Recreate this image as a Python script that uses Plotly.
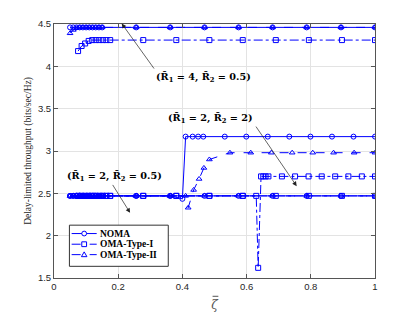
import plotly.graph_objects as go

# ---------------- data ----------------
x_noma_dense = [0.05, 0.06, 0.07, 0.08, 0.09, 0.10, 0.11, 0.12, 0.13, 0.14, 0.15,
                0.256, 0.362, 0.469, 0.575, 0.681, 0.787, 0.894, 1.0]
x_omaI = [0.075, 0.086, 0.097, 0.108, 0.119, 0.130, 0.141, 0.152, 0.163, 0.175,
          0.278, 0.381, 0.484, 0.588, 0.691, 0.794, 0.897, 1.0]

# (R1=4, R2=0.5)
noma_r4 = [4.46] * 19
omaII_r4 = [4.39, 4.43, 4.45, 4.46, 4.46, 4.46, 4.46, 4.46, 4.46, 4.46, 4.46,
            4.46, 4.46, 4.46, 4.46, 4.46, 4.46, 4.46, 4.46]
omaI_r4 = [4.18, 4.24, 4.27, 4.30, 4.31, 4.31, 4.31, 4.31, 4.31, 4.31,
           4.31, 4.31, 4.31, 4.31, 4.31, 4.31, 4.31, 4.31]

# (R1=2, R2=0.5)
noma_r05 = [2.47] * 19
omaII_r05 = [2.47] * 19
omaI_r05 = [2.47] * 18

# (R1=2, R2=2)
x_noma_r2 = [0.05, 0.06, 0.07, 0.08, 0.09, 0.10, 0.11, 0.12, 0.13, 0.14, 0.15,
             0.256, 0.362, 0.40, 0.41, 0.432, 0.449, 0.465, 0.532, 0.599, 0.666,
             0.733, 0.799, 0.866, 0.933, 1.0]
noma_r2 = [2.47] * 13 + [2.435] + [3.17] * 12

x_omaII_r2 = [0.05, 0.06, 0.07, 0.08, 0.09, 0.10, 0.11, 0.12, 0.13, 0.14, 0.15,
              0.256, 0.362, 0.41, 0.418, 0.435, 0.452, 0.467, 0.484, 0.548, 0.613,
              0.677, 0.742, 0.806, 0.871, 0.935, 1.0]
omaII_r2 = [2.47] * 14 + [2.33, 2.54, 2.67, 2.80, 2.90] + [2.98] * 8

x_omaI_r2 = [0.075, 0.086, 0.097, 0.108, 0.119, 0.130, 0.141, 0.152, 0.163, 0.175,
             0.278, 0.381, 0.484, 0.588, 0.63, 0.636, 0.645, 0.652, 0.659, 0.668,
             0.710, 0.751, 0.793, 0.834, 0.876, 0.917, 0.959, 1.0]
omaI_r2 = [2.47] * 15 + [1.62] + [2.70] * 12

x_ticks = [0, 0.2, 0.4, 0.6, 0.8, 1]
x_tick_labels = ["0", "0.2", "0.4", "0.6", "0.8", "1"]
y_ticks = [1.5, 2, 2.5, 3, 3.5, 4, 4.5]
y_tick_labels = ["1.5", "2", "2.5", "3", "3.5", "4", "4.5"]

legend_names = ["NOMA", "OMA-Type-I", "OMA-Type-II"]

# ---------------- styles ----------------
BLUE = "rgb(0,0,255)"
styles = {
    "NOMA": dict(dash="solid", symbol="circle-open"),
    "OMA-Type-I": dict(dash="dashdot", symbol="square-open"),
    "OMA-Type-II": dict(dash="dash", symbol="triangle-up-open"),
}

series = [
    ("NOMA", x_noma_dense, noma_r4),
    ("OMA-Type-I", x_omaI, omaI_r4),
    ("OMA-Type-II", x_noma_dense, omaII_r4),
    ("NOMA", x_noma_dense, noma_r05),
    ("OMA-Type-I", x_omaI, omaI_r05),
    ("OMA-Type-II", x_noma_dense, omaII_r05),
    ("NOMA", x_noma_r2, noma_r2),
    ("OMA-Type-I", x_omaI_r2, omaI_r2),
    ("OMA-Type-II", x_omaII_r2, omaII_r2),
]

fig = go.Figure()
for name, xs, ys in series:
    st = styles[name]
    fig.add_trace(go.Scatter(
        x=xs, y=ys, mode="lines+markers", name=name, showlegend=False,
        line=dict(color=BLUE, width=1, dash=st["dash"]),
        marker=dict(symbol=st["symbol"], size=5, color=BLUE,
                    line=dict(color=BLUE, width=1)),
    ))

SERIF = "DejaVu Serif, Liberation Serif, serif"
ann_font = dict(family=SERIF, size=9.7, color="black")

def label(x, y, txt):
    fig.add_annotation(x=x, y=y, xref="x", yref="y", text=txt,
                       showarrow=False, font=ann_font)

def arrow(x0, y0, x1, y1):
    fig.add_annotation(x=x1, y=y1, ax=x0, ay=y0, xref="x", yref="y",
                       axref="x", ayref="y", text="", showarrow=True,
                       arrowhead=2, arrowsize=1.3, arrowwidth=0.7,
                       arrowcolor="#222222", standoff=0, startstandoff=0)

label(0.465, 3.87, "<b>(R̄<sub>1</sub> = 4, R̄<sub>2</sub> = 0.5)</b>")
arrow(0.315, 3.956, 0.211, 4.505)
label(0.489, 3.389, "<b>(R̄<sub>1</sub> = 2, R̄<sub>2</sub> = 2)</b>")
arrow(0.626, 3.306, 0.756, 2.585)
label(0.187, 2.703, "<b>(R̄<sub>1</sub> = 2, R̄<sub>2</sub> = 0.5)</b>")
arrow(0.18, 2.617, 0.237, 2.27)

# ---------------- compact legend (paper fractions of the plot area) ----------------
leg_x0, leg_x1, leg_y0, leg_y1 = 0.048, 0.356, 0.046, 0.208
leg_rows = [0.175, 0.133, 0.092]
fig.add_shape(type="rect", xref="paper", yref="paper",
              x0=leg_x0, x1=leg_x1, y0=leg_y0, y1=leg_y1,
              line=dict(color="#333333", width=1), fillcolor="white", layer="above")
dx, dy = 2.4 / 321, 2.4 / 253.7
cx = 0.094
for name, yr in zip(legend_names, leg_rows):
    st = styles[name]
    fig.add_shape(type="line", xref="paper", yref="paper",
                  x0=0.055, x1=0.133, y0=yr, y1=yr, layer="above",
                  line=dict(color=BLUE, width=1, dash=st["dash"]))
    mk = dict(xref="paper", yref="paper", layer="above", fillcolor="white",
              line=dict(color=BLUE, width=1))
    if st["symbol"].startswith("circle"):
        fig.add_shape(type="circle", x0=cx - dx, x1=cx + dx, y0=yr - dy, y1=yr + dy, **mk)
    elif st["symbol"].startswith("square"):
        fig.add_shape(type="rect", x0=cx - dx, x1=cx + dx, y0=yr - dy, y1=yr + dy, **mk)
    else:
        path = (f"M {cx:.4f} {yr + 1.15 * dy:.4f} L {cx - 1.15 * dx:.4f} {yr - 0.85 * dy:.4f} "
                f"L {cx + 1.15 * dx:.4f} {yr - 0.85 * dy:.4f} Z")
        fig.add_shape(type="path", path=path, **mk)
    fig.add_annotation(x=0.138, y=yr, xref="paper", yref="paper",
                       xanchor="left", yanchor="middle", showarrow=False,
                       text="<b>" + name + "</b>",
                       font=dict(family="Liberation Serif, serif", size=9.5, color="black"))

# bar over the zeta of the x-axis title
fig.add_shape(type="line", xref="paper", yref="paper",
              x0=0.494, x1=0.512, y0=-0.072, y1=-0.072,
              line=dict(color="#555555", width=1))

axis_common = dict(
    showgrid=True, gridcolor="#e3e3e3", gridwidth=1,
    showline=True, linecolor="#555555", linewidth=1, mirror="ticks",
    ticks="inside", ticklen=4, tickcolor="#555555",
    tickfont=dict(family="Liberation Sans, Arial, sans-serif", size=9.5, color="#262626"),
    zeroline=False, automargin=False,
)

fig.update_layout(
    width=415, height=312,
    margin=dict(l=54, r=40, t=24, b=34),
    plot_bgcolor="white", paper_bgcolor="white",
    xaxis=dict(range=[0, 1], tickvals=x_ticks, ticktext=x_tick_labels,
               title=dict(text="<i>ζ</i>", font=dict(family="DejaVu Serif, serif", size=12, color="#555555"),
                          standoff=9),
               **axis_common),
    yaxis=dict(range=[1.5, 4.5], tickvals=y_ticks, ticktext=y_tick_labels,
               title=dict(text="Delay-limited throughput (bits/sec/Hz)",
                          font=dict(family="Liberation Serif, serif", size=9.5, color="#262626"), standoff=4),
               **axis_common),
    showlegend=False,
)

fig.write_html("out.html", config={"displayModeBar": False},
               post_script="document.body.style.margin='0';")
